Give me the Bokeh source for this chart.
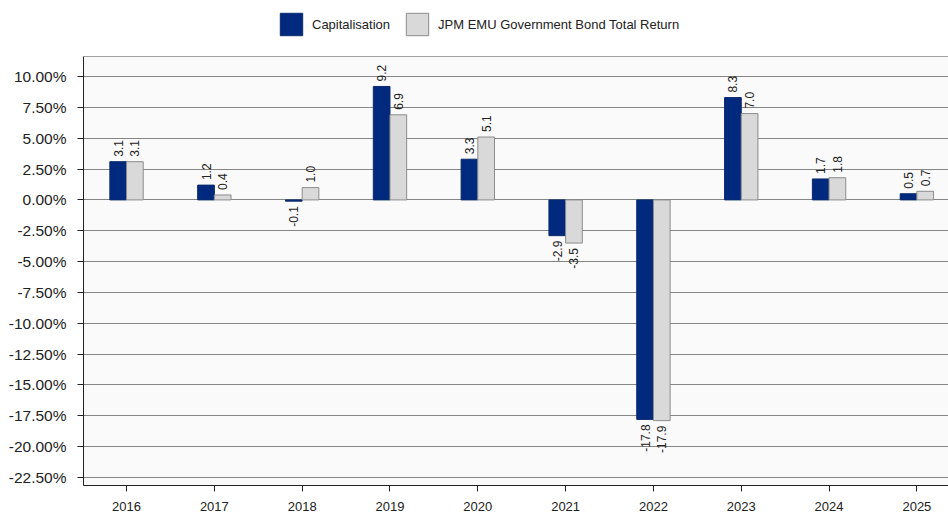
import math
from bokeh.plotting import figure
from bokeh.layouts import column
from bokeh.models import (ColumnDataSource, FixedTicker, PrintfTickFormatter, Legend,
                          LegendItem, Span, Range1d)
from bokeh.transform import dodge
from bokeh.core.properties import value
from bokeh.embed import file_html
from bokeh.resources import INLINE

# ---- data ----
years = [2016, 2017, 2018, 2019, 2020, 2021, 2022, 2023, 2024, 2025]
capitalisation = [3.1, 1.2, -0.1, 9.2, 3.3, -2.9, -17.8, 8.3, 1.7, 0.5]
benchmark = [3.1, 0.4, 1.0, 6.9, 5.1, -3.5, -17.9, 7.0, 1.8, 0.7]
series_names = ["Capitalisation", "JPM EMU Government Bond Total Return"]
y_ticks = [-22.5, -20.0, -17.5, -15.0, -12.5, -10.0, -7.5, -5.0, -2.5, 0.0, 2.5, 5.0, 7.5, 10.0]

# ---- style ----
FONT = "Liberation Sans"
BAR_W = 0.19
COLORS = ["#012a7f", "#d9d9d9"]
LINES = ["#0a2a6a", "#8c8c8c"]
Y_START, Y_END = -23.16, 11.63
W = 948
LEG_H = 56
H = 459
BL, BR, BB = 83, 0, 30

sources = [ColumnDataSource(dict(x=years, y=vals)) for vals in (capitalisation, benchmark)]

# ---- legend strip (own small figure above the chart; its bars fall outside its view) ----
lf = figure(width=W, height=LEG_H, output_backend="svg", toolbar_location=None,
            x_axis_location=None, y_axis_location=None, outline_line_color=None,
            min_border=0, x_range=Range1d(0, 1), y_range=Range1d(0, 1))
lf.xgrid.visible = False
lf.ygrid.visible = False
leg_renderers = []
for i in range(2):
    r = lf.vbar(x="x", top="y", width=BAR_W, source=sources[i],
                fill_color=COLORS[i], line_color=LINES[i])
    leg_renderers.append(r)
legend = Legend(items=[LegendItem(label=series_names[i], renderers=[leg_renderers[i]])
                       for i in range(2)],
                orientation="horizontal", location=(194, 18),
                glyph_width=28, glyph_height=28, label_standoff=7, spacing=13,
                padding=0, margin=0, border_line_color=None, background_fill_alpha=0,
                label_text_font=FONT, label_text_font_size="13px", label_text_color="#222222")
lf.add_layout(legend)

# ---- main chart ----
p = figure(width=W, height=H, output_backend="svg", toolbar_location=None,
           x_range=Range1d(2015.51, 2025.36), y_range=Range1d(Y_START, Y_END),
           min_border_left=BL, min_border_right=BR, min_border_top=0, min_border_bottom=BB,
           background_fill_color="#fafafa", border_fill_color="white",
           outline_line_color=None)

for i, (vals, off) in enumerate([(capitalisation, -BAR_W / 2), (benchmark, BAR_W / 2)]):
    p.vbar(x=dodge("x", off), top="y", bottom=0, width=BAR_W, source=sources[i],
           fill_color=COLORS[i], line_color=LINES[i], line_width=1)

    pos = [(x, v) for x, v in zip(years, vals) if v >= 0]
    neg = [(x, v) for x, v in zip(years, vals) if v < 0]
    for group, align, yoff in [(pos, "left", -5), (neg, "right", 5)]:
        if not group:
            continue
        s = ColumnDataSource(dict(x=[g[0] for g in group], y=[g[1] for g in group],
                                  t=["%.1f" % g[1] for g in group]))
        p.text(x=dodge("x", off), y="y", text="t", source=s, angle=math.pi / 2,
               text_align=align, text_baseline="middle", y_offset=yoff,
               text_font=value(FONT), text_font_size="12px", text_color="#222222")

# top border of the frame
p.add_layout(Span(location=Y_END, dimension="width", line_color="#444444", line_width=1))

# axes
p.yaxis.ticker = FixedTicker(ticks=y_ticks)
p.yaxis.formatter = PrintfTickFormatter(format="%.2f%%")
p.yaxis.major_label_text_font_size = "15.5px"
p.yaxis.major_label_standoff = 11
p.xaxis.ticker = FixedTicker(ticks=years)
p.xaxis.formatter = PrintfTickFormatter(format="%d")
p.xaxis.major_label_text_font_size = "13px"
p.xaxis.major_label_standoff = 10
for ax in (p.xaxis, p.yaxis):
    ax.major_label_text_font = FONT
    ax.major_label_text_color = "#222222"
    ax.axis_line_color = "#222222"
    ax.major_tick_line_color = "#222222"
    ax.major_tick_in = 0
    ax.major_tick_out = 6
    ax.minor_tick_line_color = None

p.xgrid.visible = False
p.ygrid.ticker = FixedTicker(ticks=y_ticks)
p.ygrid.grid_line_color = "#858585"
p.ygrid.grid_line_width = 1

layout = column(lf, p, spacing=0)
open("out.html", "w").write(file_html(layout, INLINE))
